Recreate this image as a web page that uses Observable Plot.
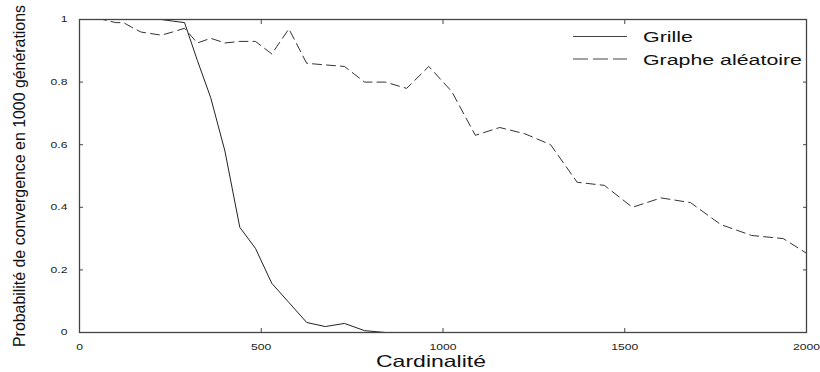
<!DOCTYPE html>
<html>
<head>
<meta charset="utf-8">
<script src="https://cdn.jsdelivr.net/npm/d3@7"></script>
<script src="https://cdn.jsdelivr.net/npm/@observablehq/plot@0.6"></script>
<style>
  html, body { margin: 0; padding: 0; background: #fff; }
  #chart { width: 820px; height: 372px; }
</style>
</head>
<body>
<div id="chart"></div>
<script>
// Cardinalité des graphes testés (tailles de grilles carrées)
const cardinalite = [49, 64, 81, 100, 121, 144, 169, 196, 225, 256, 289, 324, 361, 400,
  441, 484, 529, 576, 625, 676, 729, 784, 841, 900, 961, 1024, 1089, 1156, 1225, 1296,
  1369, 1444, 1521, 1600, 1681, 1764, 1849, 1936, 2025];

// Probabilité de convergence, topologie en grille (jusqu'à 841 sommets)
const grille = [1, 1, 1, 1, 1, 1, 1, 1, 1, 0.995, 0.99, 0.87, 0.75, 0.58,
  0.336, 0.269, 0.157, 0.096, 0.032, 0.019, 0.029, 0.006, 0];

// Probabilité de convergence, graphe aléatoire
const aleatoire = [1, 1, 0.995, 0.99, 0.99, 0.975, 0.96, 0.955, 0.95, 0.96, 0.972, 0.925,
  0.94, 0.925, 0.93, 0.93, 0.89, 0.97, 0.86, 0.855, 0.85, 0.8, 0.8, 0.78, 0.85, 0.77,
  0.63, 0.655, 0.635, 0.6, 0.48, 0.47, 0.4, 0.43, 0.415, 0.345, 0.31, 0.3, 0.235];

const xTicks = [0, 500, 1000, 1500, 2000];
const yTicks = [0, 0.2, 0.4, 0.6, 0.8, 1];

const series = [
  {name: "Grille", dash: "none"},
  {name: "Graphe aléatoire", dash: "15,5"}
];

const grilleRows = grille.map((p, i) => ({x: cardinalite[i], y: p}));
const aleatoireRows = aleatoire.map((p, i) => ({x: cardinalite[i], y: p}));

const ink = "#333";

const chart = Plot.plot({
  width: 820,
  height: 372,
  marginLeft: 79,
  marginRight: 14,
  marginTop: 19,
  marginBottom: 40,
  x: {domain: [0, 2000]},
  y: {domain: [0, 1]},
  style: {fontFamily: "'Liberation Sans', Arial, sans-serif", fontSize: "9px", color: "#222", background: "#fff"},
  marks: [
    Plot.line(aleatoireRows, {x: "x", y: "y", stroke: ink, strokeWidth: 1, strokeDasharray: "9,5", clip: true}),
    Plot.line(grilleRows, {x: "x", y: "y", stroke: "#222", strokeWidth: 1, clip: true}),
    Plot.frame({stroke: "#444", strokeWidth: 1.3}),
    Plot.axisX(xTicks, {anchor: "bottom", tickSize: -4, tickPadding: 15, tickFormat: d => String(d), label: null, stroke: "#444"}),
    Plot.axisX(xTicks, {anchor: "top", tickSize: -4, tickFormat: () => "", label: null, stroke: "#444"}),
    Plot.axisY(yTicks, {anchor: "left", tickSize: -4, tickPadding: 16, tickFormat: d => String(d), label: null, stroke: "#444"}),
    Plot.axisY(yTicks, {anchor: "right", tickSize: -4, tickFormat: () => "", label: null, stroke: "#444"})
  ]
});

document.getElementById("chart").append(chart);

const svg = d3.select(chart);

// tick labels drawn slightly widened
svg.selectAll('g[aria-label="x-axis tick label"] text, g[aria-label="y-axis tick label"] text')
  .each(function () {
    const t = this.getAttribute("transform") || "";
    this.setAttribute("transform", t + " scale(1.35,1)");
  });

const font = "'Liberation Sans', Arial, sans-serif";

// axis titles
svg.append("text")
  .attr("transform", "translate(25,176) rotate(-90) scale(1,1.15)")
  .attr("text-anchor", "middle")
  .attr("font-family", font)
  .attr("font-size", 14)
  .attr("fill", "#111")
  .attr("textLength", 342)
  .attr("lengthAdjust", "spacingAndGlyphs")
  .text("Probabilité de convergence en 1000 générations");

svg.append("text")
  .attr("x", 376)
  .attr("y", 367)
  .attr("text-anchor", "start")
  .attr("font-family", font)
  .attr("font-size", 16.5)
  .attr("fill", "#111")
  .attr("textLength", 110)
  .attr("lengthAdjust", "spacingAndGlyphs")
  .text("Cardinalité");

// legend
const legend = svg.append("g").attr("class", "legend");
const legendRows = [
  {y: 36.5, base: 42, len: 50},
  {y: 59, base: 65, len: 159}
];
series.forEach((s, i) => {
  const r = legendRows[i];
  legend.append("line")
    .attr("x1", 573).attr("x2", 627)
    .attr("y1", r.y).attr("y2", r.y)
    .attr("stroke", "#444")
    .attr("stroke-width", 1)
    .attr("stroke-dasharray", s.dash);
  legend.append("text")
    .attr("x", 643).attr("y", r.base)
    .attr("text-anchor", "start")
    .attr("font-family", font)
    .attr("font-size", 14)
    .attr("fill", "#111")
    .attr("textLength", r.len)
    .attr("lengthAdjust", "spacingAndGlyphs")
    .text(s.name);
});
</script>
</body>
</html>
